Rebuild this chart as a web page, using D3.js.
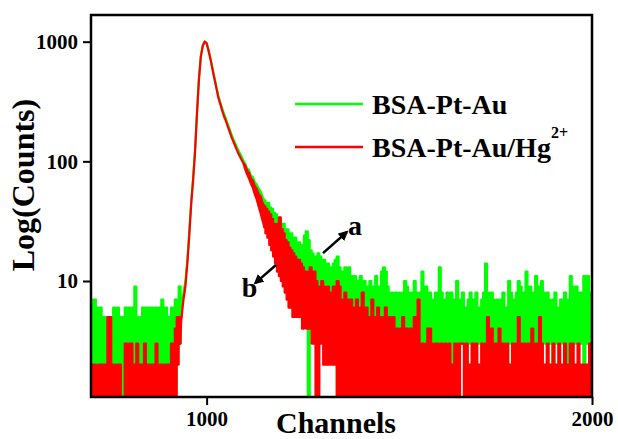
<!DOCTYPE html>
<html>
<head>
<meta charset="utf-8">
<script src="https://cdn.jsdelivr.net/npm/d3@7"></script>
<style>
  body { margin: 0; background: #fff; }
  text { font-family: "Liberation Serif", "Times New Roman", serif; font-weight: bold; fill: #000; }
</style>
</head>
<body>
<div id="chart"></div>
<script>
// channel bins: first channel and bin width (5 channels per bin)
var chStart = 700, chStep = 5;

// each bin keeps the highest and lowest count seen in it (the trace is very noisy)
// BSA-Pt-Au (green)
var greenBaseHi = [7,6,7,6,5,6,5,5,4,5, 4,5,6,5,6,5,5,4,6,5, 6,5,6,9,5,4,5,6,5,6, 5,6,6,5,6,5,6,7,5,6, 5,5,6,5,7,6,9];
var greenBaseLo = [1,2,2,1,2,2,3,2,2,2, 3,2,1,1,2,3,1,1,1,2, 2,3,2,2,2,1,2,2,3,1, 2,2,3,2,1,1,2,3,1,2, 2,2,3,2,2,3,3];
var greenPeak = [6,8,10,15,26,46,72,125,255,490, 760,930,1000,975,850,725,605,505,425,358, 315,280,250,228,205,185,166,152,140,128, 119,111,102];
var greenDecayHi = [96,87,85,76,74,67,64,59,56,51];
var greenDecayLo = [90,82,78,70,66,60,56,51,47,43];
var greenSlowHi = [47,44,45,41,40,37,36,33,32,29, 30,27,27,24,25,22,23,20,21,19, 20,24,26,22,18,17,16,15,17,16, 14,15,13,14,13,12,14,15,16,13, 12,11,13,12,13,11,10,11,9,10, 11,9,10,8,9,10,8,9,11,8, 9,12,13];
var greenSlowLo = [40,38,36,33,31,29,27,25,23,21, 20,19,17,16,15,14,14,13,12,11, 11,10,10,1,9,9,8,8,8,7, 7,7,6,6,6,6,5,5,5,5, 5,5,4,4,4,4,4,4,4,4, 4,3,4,3,3,4,3,3,3,3, 3,3,3];
var greenTailHi = [12,9,7,8,6,8,7,8,6,8, 10,9,6,8,7,10,8,6,8,12, 7,9,6,8,7,5,8,7,13,8, 6,7,8,6,8,7,5,10,6,7, 8,6,6,7,8,5,7,8,6,6, 7,8,14,8,6,8,7,5,7,6, 7,8,6,5,10,8,6,7,8,10, 9,6,8,12,7,9,6,8,11,9, 7,10,8,6,8,7,5,7,8,6, 6,7,5,8,7,6,11,9,7,9, 6,8,7,11,8,11,8,7];
var greenTailLo = [3,3,4,3,3,2,3,3,4,3, 3,2,3,3,3,4,3,3,2,3, 3,3,4,3,3,3,2,3,3,3, 4,3,3,3,2,3,3,3,3,4, 3,3,2,3,3,3,3,4,3,3, 3,2,3,3,3,4,3,3,3,1, 3,3,3,2,3,3,4,3,3,3, 3,2,3,3,3,3,4,3,3,2, 3,3,3,3,4,3,3,2,3,3, 3,3,4,3,3,2,3,3,3,3, 4,3,3,2,3,3,3,4];

// BSA-Pt-Au/Hg2+ (red)
var redBaseHi = [1,2,2,1,2,2,2,2,2,5, 5,2,2,1,2,2,1,1,3,3, 2,3,2,2,3,1,2,2,3,1, 2,2,2,2,3,1,2,2,1,2, 2,2,3,3,4,5,5];
var redBaseLo = [1,1,1,1,1,1,1,1,2,1, 1,1,1,1,1,1,1,1,1,1, 1,1,1,1,1,1,1,1,2,1, 1,1,1,1,1,1,1,1,1,1, 1,2,1,1,1,2,3];
var redPeak = [5,7,9,14,24,44,70,120,250,480, 750,920,1000,970,840,715,595,495,415,345, 305,268,238,218,195,176,158,145,132,121, 112,104,97];
var redDecayHi = [93,84,80,72,69,62,59,53,51,45];
var redDecayLo = [86,78,72,65,60,53,48,42,37,32];
var redSlowHi = [42,40,38,36,33,30,28,30,34,27, 25,22,21,19,18,17,16,15,15,14, 13,12,12,11,13,11,12,10,9,8, 10,9,7,9,8,7,9,8,10,9, 7,6,8,7,6,7,5,6,7,5, 6,8,5,6,4,5,7,4,5,6, 4,5,4];
var redSlowLo = [28,25,23,20,18,16,14,12,11,10, 9,8,7,6,6,5,5,5,5,5, 4,5,4,4,4,3,3,1,1,3, 3,2,2,2,2,2,2,2,1,1, 1,2,1,1,1,2,1,1,1,1, 1,1,1,1,1,1,1,1,1,1, 1,1,1];
var redTailHi = [6,4,5,4,5,3,4,3,4,5, 4,4,3,4,3,5,3,7,3,3, 2,3,4,4,3,2,3,3,2,3, 2,3,2,3,2,2,3,2,3,3, 3,2,3,2,2,3,2,3,2,2, 3,2,3,5,3,4,2,3,2,4, 2,3,2,3,2,2,3,2,3,5, 3,2,3,2,3,2,4,2,3,2, 5,3,2,2,3,2,2,3,2,2, 3,2,2,3,2,2,3,3,2,2, 3,2,2,2,2,2,3,3];
var redTailLo = [1,1,1,1,2,1,1,1,1,1, 1,1,1,1,1,1,1,1,1,1, 1,1,1,1,1,1,1,1,1,1, 1,1,1,1,1,1,1,1,1,3, 3,1,1,1,1,1,1,1,1,1, 1,1,1,1,1,1,1,1,1,1, 1,1,1,1,1,1,1,1,1,1, 1,1,1,1,1,1,1,1,1,1, 1,1,1,1,1,1,1,1,1,1, 1,1,1,1,1,1,1,1,1,1, 1,1,1,1,1,1,1,1];

var xTicks = [1000, 2000];
var xMinor = [1500];
var yTicks = [10, 100, 1000];

function bins(hi, lo) {
  return hi.map(function(h, i) { return { ch: chStart + i * chStep, hi: h, lo: lo[i] }; });
}

// noisy stretches are drawn as steps, the decay peak as a smooth trace
var nBase = greenBaseHi.length, nSmooth = greenPeak.length + greenDecayHi.length;
function pieces(b) {
  return [
    { bins: b.slice(0, nBase + 1), curve: d3.curveStep },
    { bins: b.slice(nBase - 1, nBase + nSmooth + 1), curve: d3.curveLinear },
    { bins: b.slice(nBase + nSmooth), curve: d3.curveStep }
  ];
}

var series = [
  { name: "BSA-Pt-Au", color: "#00ff00",
    bins: bins([].concat(greenBaseHi, greenPeak, greenDecayHi, greenSlowHi, greenTailHi),
               [].concat(greenBaseLo, greenPeak, greenDecayLo, greenSlowLo, greenTailLo)) },
  { name: "BSA-Pt-Au/Hg", sup: "2+", color: "#ff0000",
    bins: bins([].concat(redBaseHi, redPeak, redDecayHi, redSlowHi, redTailHi),
               [].concat(redBaseLo, redPeak, redDecayLo, redSlowLo, redTailLo)) }
];

var W = 618, H = 439;
var m = { left: 91, right: 592, top: 15, bottom: 397 };

var svg = d3.select("#chart").append("svg").attr("width", W).attr("height", H);

var x = d3.scaleLinear().domain([700, 2000]).range([m.left, m.right]);
var y = d3.scaleLog().domain([1.073, 1671]).range([m.bottom, m.top]).clamp(true);

svg.append("clipPath").attr("id", "plotclip").append("rect")
  .attr("x", m.left).attr("y", m.top).attr("width", m.right - m.left).attr("height", m.bottom - m.top);

var band = d3.area()
  .x(function(d) { return x(d.ch); })
  .y0(function(d) { return y(d.lo); })
  .y1(function(d) { return y(d.hi); });

var sg = svg.append("g").attr("clip-path", "url(#plotclip)")
  .selectAll("g").data(series).enter().append("g")
  .attr("fill", function(d) { return d.color; })
  .attr("stroke", function(d) { return d.color; });
sg.selectAll("path").data(function(d) { return pieces(d.bins); }).enter().append("path")
  .attr("d", function(p) { return band.curve(p.curve)(p.bins); })
  .attr("stroke-width", 2.2)
  .attr("stroke-linejoin", "round");

// axes
var yMinor = [];
[1, 10, 100, 1000].forEach(function(dec) {
  for (var k = 2; k <= 9; k++) { if (dec * k < 1671 && dec * k > 1.073) yMinor.push(dec * k); }
});

var gy = svg.append("g").attr("transform", "translate(" + m.left + ",0)");
gy.call(d3.axisLeft(y).tickValues(yMinor).tickFormat("").tickSize(4));
gy.call(d3.axisLeft(y).tickValues(yTicks).tickFormat(d3.format("d")).tickSize(8).tickPadding(5));

var gx = svg.append("g").attr("transform", "translate(0," + m.bottom + ")");
gx.call(d3.axisBottom(x).tickValues(xMinor).tickFormat("").tickSize(4));
gx.call(d3.axisBottom(x).tickValues(xTicks).tickFormat(d3.format("d")).tickSize(8).tickPadding(6));

gy.attr("font-family", null).attr("font-size", null);
gx.attr("font-family", null).attr("font-size", null);
svg.selectAll(".domain").remove();
svg.selectAll(".tick line").attr("stroke", "#000").attr("stroke-width", 2);
svg.selectAll(".tick text").style("font-size", "21px");

svg.append("rect")
  .attr("x", m.left).attr("y", m.top).attr("width", m.right - m.left).attr("height", m.bottom - m.top)
  .attr("fill", "none").attr("stroke", "#000").attr("stroke-width", 2.5);

// axis titles
svg.append("text").attr("x", 336).attr("y", 433).attr("text-anchor", "middle")
  .style("font-size", "30px").text("Channels");
svg.append("text").attr("transform", "translate(34,185) rotate(-90)").attr("text-anchor", "middle")
  .style("font-size", "32px").text("Log(Counts)");

// legend
var leg = svg.append("g").selectAll("g").data(series).enter().append("g")
  .attr("transform", function(d, i) { return "translate(295," + (104 + i * 43) + ")"; });
leg.append("line").attr("x1", 0).attr("x2", 68).attr("y1", 0).attr("y2", 0)
  .attr("stroke", function(d) { return d.color; }).attr("stroke-width", 2.5);
var lt = leg.append("text").attr("x", 77).attr("y", 10).style("font-size", "28px");
lt.append("tspan").text(function(d) { return d.name; });
lt.filter(function(d) { return d.sup; }).append("tspan")
  .attr("dy", -19).style("font-size", "16px").text(function(d) { return d.sup; });

// annotations a / b
svg.append("defs").append("marker").attr("id", "arrowhead").attr("viewBox", "0 0 10 10")
  .attr("refX", 8).attr("refY", 5).attr("markerWidth", 4).attr("markerHeight", 4)
  .attr("orient", "auto")
  .append("path").attr("d", "M0,0 L10,5 L0,10 z").attr("fill", "#000");

var notes = [
  { label: "a", lx: 1367, ly: 24.2, from: [1302, 17.1], to: [1364, 25.7] },
  { label: "b", lx: 1091, ly: 7.4, from: [1180, 13.6], to: [1126, 9.6] }
];
var ng = svg.append("g");
ng.selectAll("line").data(notes).enter().append("line")
  .attr("x1", function(d) { return x(d.from[0]); }).attr("y1", function(d) { return y(d.from[1]); })
  .attr("x2", function(d) { return x(d.to[0]); }).attr("y2", function(d) { return y(d.to[1]); })
  .attr("stroke", "#000").attr("stroke-width", 2.5).attr("marker-end", "url(#arrowhead)");
ng.selectAll("text").data(notes).enter().append("text")
  .attr("x", function(d) { return x(d.lx); }).attr("y", function(d) { return y(d.ly); })
  .style("font-size", "28px").text(function(d) { return d.label; });
</script>
</body>
</html>
